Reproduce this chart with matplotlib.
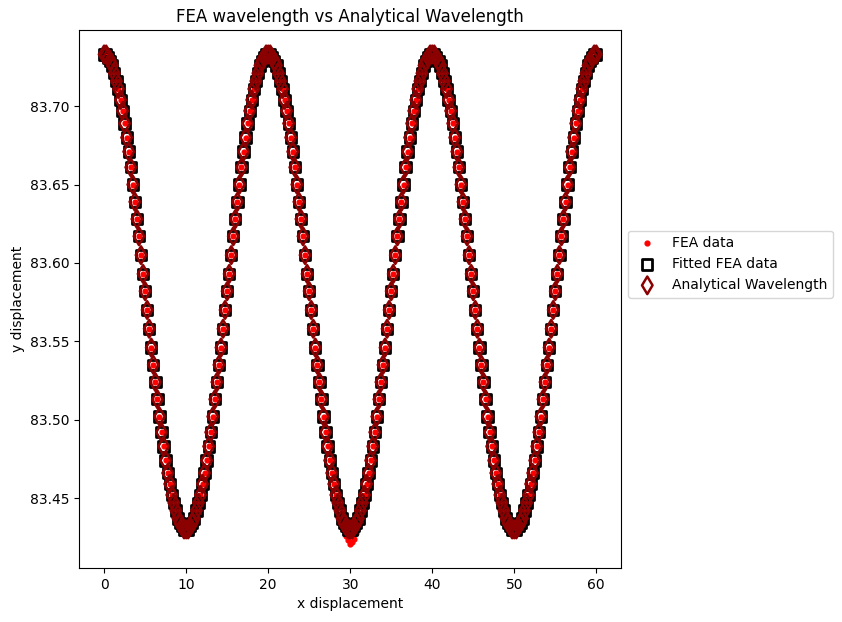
import matplotlib
matplotlib.use("Agg")
import matplotlib.pyplot as plt

# x positions of the FEA nodes (0 .. 60)
x_disp = [
    0.0, 0.25, 0.5, 0.75, 1.0, 1.25, 1.5, 1.75, 2.0, 2.25, 2.5, 2.75, 3.0, 3.25, 3.5, 3.75,
    4.0, 4.25, 4.5, 4.75, 5.0, 5.25, 5.5, 5.75, 6.0, 6.25, 6.5, 6.75, 7.0, 7.25, 7.5, 7.75,
    8.0, 8.25, 8.5, 8.75, 9.0, 9.25, 9.5, 9.75, 10.0, 10.25, 10.5, 10.75, 11.0, 11.25, 11.5, 11.75,
    12.0, 12.25, 12.5, 12.75, 13.0, 13.25, 13.5, 13.75, 14.0, 14.25, 14.5, 14.75, 15.0, 15.25, 15.5, 15.75,
    16.0, 16.25, 16.5, 16.75, 17.0, 17.25, 17.5, 17.75, 18.0, 18.25, 18.5, 18.75, 19.0, 19.25, 19.5, 19.75,
    20.0, 20.25, 20.5, 20.75, 21.0, 21.25, 21.5, 21.75, 22.0, 22.25, 22.5, 22.75, 23.0, 23.25, 23.5, 23.75,
    24.0, 24.25, 24.5, 24.75, 25.0, 25.25, 25.5, 25.75, 26.0, 26.25, 26.5, 26.75, 27.0, 27.25, 27.5, 27.75,
    28.0, 28.25, 28.5, 28.75, 29.0, 29.25, 29.5, 29.75, 30.0, 30.25, 30.5, 30.75, 31.0, 31.25, 31.5, 31.75,
    32.0, 32.25, 32.5, 32.75, 33.0, 33.25, 33.5, 33.75, 34.0, 34.25, 34.5, 34.75, 35.0, 35.25, 35.5, 35.75,
    36.0, 36.25, 36.5, 36.75, 37.0, 37.25, 37.5, 37.75, 38.0, 38.25, 38.5, 38.75, 39.0, 39.25, 39.5, 39.75,
    40.0, 40.25, 40.5, 40.75, 41.0, 41.25, 41.5, 41.75, 42.0, 42.25, 42.5, 42.75, 43.0, 43.25, 43.5, 43.75,
    44.0, 44.25, 44.5, 44.75, 45.0, 45.25, 45.5, 45.75, 46.0, 46.25, 46.5, 46.75, 47.0, 47.25, 47.5, 47.75,
    48.0, 48.25, 48.5, 48.75, 49.0, 49.25, 49.5, 49.75, 50.0, 50.25, 50.5, 50.75, 51.0, 51.25, 51.5, 51.75,
    52.0, 52.25, 52.5, 52.75, 53.0, 53.25, 53.5, 53.75, 54.0, 54.25, 54.5, 54.75, 55.0, 55.25, 55.5, 55.75,
    56.0, 56.25, 56.5, 56.75, 57.0, 57.25, 57.5, 57.75, 58.0, 58.25, 58.5, 58.75, 59.0, 59.25, 59.5, 59.75,
    60.0,
]

# fitted FEA curve (the analytical wavelength sits on top of it)
y_fit = [
    83.733, 83.733, 83.731, 83.729, 83.726, 83.721, 83.716, 83.711, 83.704, 83.697,
    83.689, 83.680, 83.671, 83.661, 83.650, 83.639, 83.628, 83.617, 83.605, 83.593,
    83.582, 83.570, 83.558, 83.546, 83.535, 83.524, 83.513, 83.502, 83.492, 83.483,
    83.474, 83.466, 83.459, 83.452, 83.447, 83.442, 83.437, 83.434, 83.432, 83.430,
    83.430, 83.430, 83.432, 83.434, 83.437, 83.442, 83.447, 83.452, 83.459, 83.466,
    83.474, 83.483, 83.492, 83.502, 83.513, 83.524, 83.535, 83.546, 83.558, 83.570,
    83.582, 83.593, 83.605, 83.617, 83.628, 83.639, 83.650, 83.661, 83.671, 83.680,
    83.689, 83.697, 83.704, 83.711, 83.716, 83.721, 83.726, 83.729, 83.731, 83.733,
    83.733, 83.733, 83.731, 83.729, 83.726, 83.721, 83.716, 83.711, 83.704, 83.697,
    83.689, 83.680, 83.671, 83.661, 83.650, 83.639, 83.628, 83.617, 83.605, 83.593,
    83.582, 83.570, 83.558, 83.546, 83.535, 83.524, 83.513, 83.502, 83.492, 83.483,
    83.474, 83.466, 83.459, 83.452, 83.447, 83.442, 83.437, 83.434, 83.432, 83.430,
    83.430, 83.430, 83.432, 83.434, 83.437, 83.442, 83.447, 83.452, 83.459, 83.466,
    83.474, 83.483, 83.492, 83.502, 83.513, 83.524, 83.535, 83.546, 83.558, 83.570,
    83.582, 83.593, 83.605, 83.617, 83.628, 83.639, 83.650, 83.661, 83.671, 83.680,
    83.689, 83.697, 83.704, 83.711, 83.716, 83.721, 83.726, 83.729, 83.731, 83.733,
    83.733, 83.733, 83.731, 83.729, 83.726, 83.721, 83.716, 83.711, 83.704, 83.697,
    83.689, 83.680, 83.671, 83.661, 83.650, 83.639, 83.628, 83.617, 83.605, 83.593,
    83.582, 83.570, 83.558, 83.546, 83.535, 83.524, 83.513, 83.502, 83.492, 83.483,
    83.474, 83.466, 83.459, 83.452, 83.447, 83.442, 83.437, 83.434, 83.432, 83.430,
    83.430, 83.430, 83.432, 83.434, 83.437, 83.442, 83.447, 83.452, 83.459, 83.466,
    83.474, 83.483, 83.492, 83.502, 83.513, 83.524, 83.535, 83.546, 83.558, 83.570,
    83.582, 83.593, 83.605, 83.617, 83.628, 83.639, 83.650, 83.661, 83.671, 83.680,
    83.689, 83.697, 83.704, 83.711, 83.716, 83.721, 83.726, 83.729, 83.731, 83.733,
    83.733,
]
y_analytical = y_fit

# raw FEA sits on the fit except for the deeper trough around x = 30
fea_dip = [83.446, 83.440, 83.435, 83.430, 83.426, 83.423, 83.421,
           83.422, 83.424, 83.428, 83.433, 83.440, 83.446]
DIP_START = 114
y_fea = y_fit[:DIP_START] + fea_dip + y_fit[DIP_START + len(fea_dip):]

fig = plt.figure(figsize=(8.42, 6.22), dpi=100)
ax = fig.add_axes([0.0944, 0.0868, 0.643, 0.865])

ax.scatter(x_disp, y_fea, s=12, color="red", label="FEA data", zorder=1)
ax.scatter(x_disp, y_fit, s=55, marker="s", facecolors="none", edgecolors="black",
           linewidths=2, label="Fitted FEA data", zorder=2)
ax.scatter(x_disp, y_analytical, s=80, marker="d", facecolors="none", edgecolors="darkred",
           linewidths=1.8, label="Analytical Wavelength", zorder=3)

ax.set_title("FEA wavelength vs Analytical Wavelength")
ax.set_xlabel("x displacement")
ax.set_ylabel("y displacement")
ax.legend(loc="center left", bbox_to_anchor=(1.0, 0.565))

fig.savefig("out.png", dpi=100)
